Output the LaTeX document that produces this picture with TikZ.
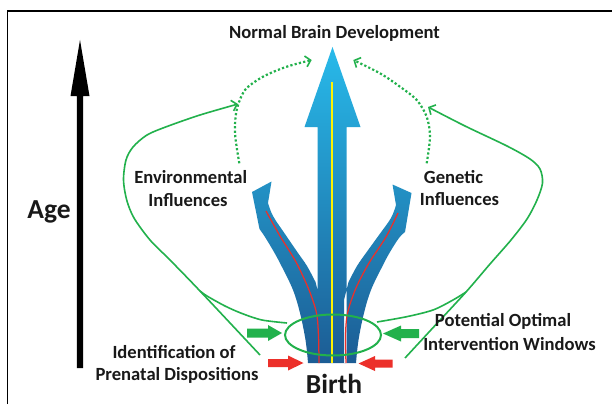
\documentclass[tikz,border=0pt]{standalone}
\usepackage{fontspec}
\setmainfont{Carlito}
\usetikzlibrary{arrows.meta}
\definecolor{lgreen}{RGB}{34,177,76}
\definecolor{rred}{RGB}{236,48,42}
\definecolor{byellow}{RGB}{255,242,0}
\definecolor{btop}{RGB}{40,186,234}
\definecolor{bmid}{RGB}{36,144,202}
\definecolor{bbot}{RGB}{28,92,148}
\begin{document}
\begin{tikzpicture}[x=1pt,y=-1pt,
  lbl/.style={font=\bfseries\fontsize{18.6}{23}\selectfont, inner sep=0pt, anchor=base, text=black!90},
  biglbl/.style={font=\bfseries\fontsize{27.5}{32}\selectfont, inner sep=0pt, anchor=base, text=black!90},
  greenline/.style={draw=lgreen, line width=1.6pt},
  dotline/.style={draw=lgreen, line width=2.2pt, dash pattern=on 2.2pt off 2.2pt},
  openhead/.style={-{Straight Barb[length=5pt,width=11pt,line width=1.6pt]}},
  redline/.style={draw=rred, line width=1.25pt},
  blockgreen/.style={fill=lgreen},
  blockred/.style={fill=rred}]
\useasboundingbox (0,0) rectangle (612,404);
\fill[white] (0,0) rectangle (612,404);
% frame
\draw[line width=1.3pt] (7.5,404) -- (7.5,11) -- (612,11);
% age arrow
\fill[black] (76.8,368) -- (76.8,96) -- (70.5,96) -- (80,40) -- (89.5,96) -- (83.2,96) -- (83.2,368) -- cycle;
% blue arrows
\shade[top color=btop, middle color=bmid, bottom color=bbot]
  (317.5,363) -- (317.5,127) -- (304.5,127) -- (332.5,47) -- (360.5,127) -- (346.5,127) -- (346.5,363) -- cycle
  plot[smooth, tension=0.6] coordinates {(308,363) (305.5,340) (300,313) (293,290) (282,267) (274,252) (265,237) (259.5,229)}
  -- (252,192) -- (271.5,181.5) -- (268,203)
  -- plot[smooth, tension=0.6] coordinates {(268,203) (273,216) (285,234) (298,253) (307,266) (315.5,282)}
  -- (320,300) -- (320,363) -- cycle
  plot[smooth, tension=0.6] coordinates {(356,363) (358.5,340) (364,313) (371,290) (382,267) (390,252) (399,238) (405,232)}
  -- (411.5,193) -- (392.5,184.5) -- (396,205)
  -- plot[smooth, tension=0.6] coordinates {(396,205) (391,218) (379,235) (366,253) (357,266) (348.5,282)}
  -- (344,300) -- (344,363) -- cycle;
% red lines
\draw[redline] plot[smooth] coordinates {(266,211) (280,236) (296,262) (309,290) (316.5,313) (318.5,336) (319,363)};
\draw[redline] plot[smooth] coordinates {(398,213) (386,237) (369,263) (356,288) (347.5,313) (345.5,336) (346,363)};
% yellow line
\draw[draw=byellow, line width=1.6pt] (332,82) -- (332,363);
% ellipse
\draw[draw=lgreen, line width=2pt] (333,335) ellipse [x radius=48, y radius=20.5];
% block arrows
\fill[blockgreen] (247,328.5) -- (268,328.5) -- (268,325) -- (282,333) -- (268,341) -- (268,337.5) -- (247,337.5) -- cycle;
\fill[blockgreen] (419,329) -- (401,329) -- (401,325.5) -- (383,333.5) -- (401,341.5) -- (401,338) -- (419,338) -- cycle;
\fill[blockred] (268,359) -- (288,359) -- (288,355.5) -- (303.5,363) -- (288,370.5) -- (288,367) -- (268,367) -- cycle;
\fill[blockred] (392.5,359.5) -- (375,359.5) -- (375,356) -- (358.5,363.5) -- (375,371) -- (375,367.5) -- (392.5,367.5) -- cycle;
% green loops
\draw[greenline, openhead] plot[smooth] coordinates {(260,355) (200,291) (170,260) (150,240) (134,218) (126.7,200) (123.5,180) (126,160) (133,147) (147,135) (167,126.5) (200,115) (238,104)};
\draw[greenline] plot[smooth] coordinates {(287,323) (262,320) (242,313.5) (225,306) (207,296) (200,291)};
\draw[greenline, openhead] plot[smooth] coordinates {(405,358) (435.5,325) (466,292) (490,264) (511,240) (527,219) (537,200) (542.5,183) (540,169) (530,159) (507,146) (465,126) (428,107)};
\draw[greenline] plot[smooth] coordinates {(377,322) (406.7,316.7) (433,310) (453,300) (466,292)};
% dotted arrows
\draw[dotline, openhead] plot[smooth] coordinates {(239.3,163.3) (235,133.3) (236.7,110) (245,90) (263,76.7) (286.7,66.7) (311.7,60)};
\draw[dotline, openhead] plot[smooth] coordinates {(426.7,163.3) (430,136.7) (426.7,116.7) (416.7,100) (400,86.7) (380,73.3) (353.3,60)};
% labels
\node[lbl] (nbd) at (334.5,38) {Normal Brain Development};
\node[lbl] (env1) at (190.7,183) {Environmental};
\node[lbl] (env2) at (188,206.5) {Influences};
\node[lbl] (gen1) at (453.5,183.3) {Genetic};
\node[lbl] (gen2) at (459.5,205.7) {Influences};
\node[lbl] (idp1) at (174,358.5) {Identification of};
\node[lbl] (idp2) at (177,380.5) {Prenatal Dispositions};
\node[lbl] (poi1) at (503,326.5) {Potential Optimal};
\node[lbl] (poi2) at (509.5,350) {Intervention Windows};
\node[biglbl] (age) at (49,218) {Age};
\node[biglbl] (birth) at (334,393) {Birth};
\end{tikzpicture}
\end{document}
